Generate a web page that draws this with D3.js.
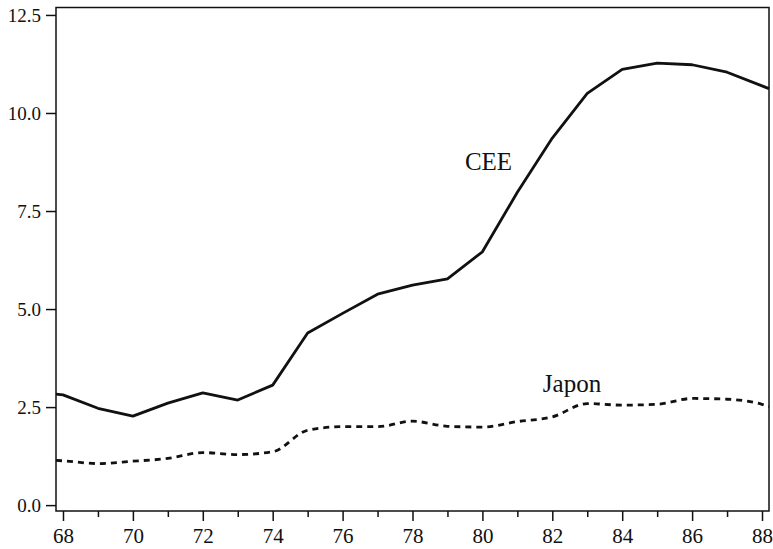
<!DOCTYPE html>
<html>
<head>
<meta charset="utf-8">
<script src="https://cdn.jsdelivr.net/npm/d3@7"></script>
<style>
  html, body { margin: 0; padding: 0; background: #fff; }
  svg { display: block; }
  svg text { font-family: "Liberation Serif", "Times New Roman", Times, "DejaVu Serif", serif !important; fill: #111; }
</style>
</head>
<body>
<svg id="chart" width="773" height="549"></svg>
<script>
// Data (years as 19xx; end points are the values at the frame edges)
const years = [67.8, 68, 69, 70, 71, 72, 73, 74, 75, 76, 77, 78, 79, 80, 81, 82, 83, 84, 85, 86, 87, 88, 88.2];
const cee   = [2.83, 2.81, 2.47, 2.27, 2.60, 2.86, 2.68, 3.06, 4.39, 4.89, 5.38, 5.61, 5.77, 6.46, 7.98, 9.36, 10.50, 11.11, 11.27, 11.23, 11.04, 10.69, 10.62];
const japon = [1.14, 1.13, 1.06, 1.12, 1.19, 1.34, 1.29, 1.36, 1.91, 2.00, 2.00, 2.14, 2.01, 1.99, 2.13, 2.25, 2.59, 2.55, 2.57, 2.72, 2.70, 2.57, 2.51];
const yTicks = [0.0, 2.5, 5.0, 7.5, 10.0, 12.5];
const xMajorTicks = [68, 70, 72, 74, 76, 78, 80, 82, 84, 86, 88];
const xMinorTicks = [69, 71, 73, 75, 77, 79, 81, 83, 85, 87];
const labels = [{text: "CEE", year: 79.5, value: 8.55}, {text: "Japon", year: 81.73, value: 2.88}];

const svg = d3.select("#chart");
const mLeft = 56, mRight = 769, mTop = 7.5, mBottom = 511;
const serif = "'Liberation Serif', 'Times New Roman', Times, serif";

const x = d3.scaleLinear().domain([67.8, 88.2]).range([mLeft, mRight]);
const y = d3.scaleLinear().domain([-0.15, 12.69]).range([mBottom, mTop]);

// Frame
svg.append("rect")
  .attr("x", mLeft).attr("y", mTop)
  .attr("width", mRight - mLeft).attr("height", mBottom - mTop)
  .attr("fill", "none").attr("stroke", "#111").attr("stroke-width", 1.5);

// Y axis
const yAxis = d3.axisLeft(y)
  .tickValues(yTicks)
  .tickFormat(d3.format(".1f"))
  .tickSize(10).tickPadding(5);
const gy = svg.append("g").attr("transform", `translate(${mLeft},0)`).call(yAxis)
  .attr("font-family", serif);
gy.select(".domain").remove();
gy.selectAll(".tick line").attr("stroke", "#111").attr("stroke-width", 1.5);
gy.selectAll(".tick text").attr("font-size", "19px").attr("fill", "#111");

// X axis major
const xAxis = d3.axisBottom(x)
  .tickValues(xMajorTicks)
  .tickFormat(d => String(d))
  .tickSize(10).tickPadding(7);
const gx = svg.append("g").attr("transform", `translate(0,${mBottom})`).call(xAxis)
  .attr("font-family", serif);
gx.select(".domain").remove();
gx.selectAll(".tick line").attr("stroke", "#111").attr("stroke-width", 1.5);
gx.selectAll(".tick text").attr("font-size", "21px").attr("fill", "#111");

// X axis minor
const xMinor = d3.axisBottom(x).tickValues(xMinorTicks).tickSize(6).tickFormat("");
const gxm = svg.append("g").attr("transform", `translate(0,${mBottom})`).call(xMinor);
gxm.select(".domain").remove();
gxm.selectAll(".tick line").attr("stroke", "#111").attr("stroke-width", 1.5);

// Lines
const ceeLine = d3.line().x((d, i) => x(years[i])).y(d => y(d));
svg.append("path").datum(cee)
  .attr("d", ceeLine)
  .attr("fill", "none").attr("stroke", "#111").attr("stroke-width", 2.8)
  .attr("stroke-linejoin", "round");

const japLine = d3.line().x((d, i) => x(years[i])).y(d => y(d)).curve(d3.curveMonotoneX);
svg.append("path").datum(japon)
  .attr("d", japLine)
  .attr("fill", "none").attr("stroke", "#111").attr("stroke-width", 2.8)
  .attr("stroke-dasharray", "6,5");

// Labels
svg.selectAll("text.lbl").data(labels).enter().append("text")
  .attr("class", "lbl")
  .attr("x", d => x(d.year)).attr("y", d => y(d.value))
  .attr("font-family", serif)
  .attr("font-size", "25px")
  .text(d => d.text);
</script>
</body>
</html>
